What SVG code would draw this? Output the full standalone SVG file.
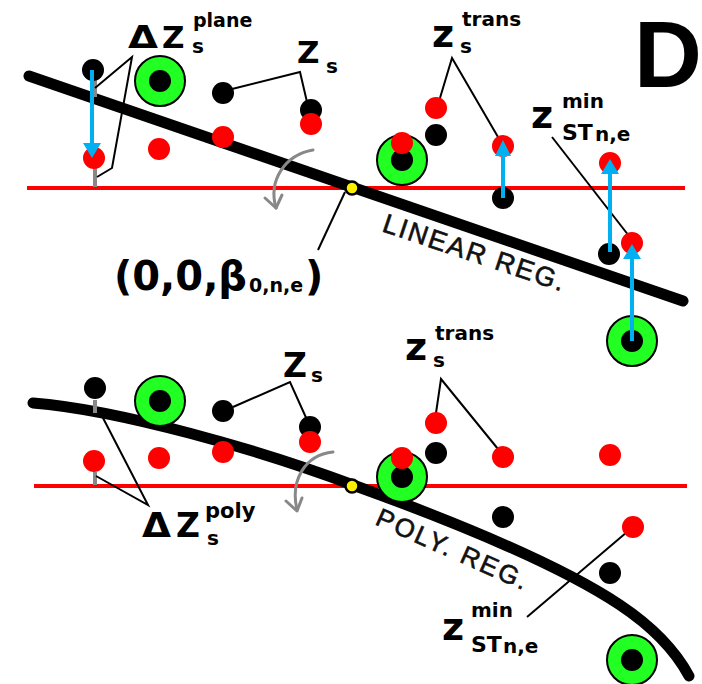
<svg xmlns="http://www.w3.org/2000/svg" width="702" height="684" viewBox="0 0 702 684">
<style>
.axis{stroke:#ff0000;stroke-width:4;fill:none}
.reg{stroke:#000;stroke-width:11;fill:none;stroke-linecap:round}
.stub{stroke:#888;stroke-width:4;fill:none}
.call{stroke:#000;stroke-width:2;fill:none;stroke-linejoin:miter}
.rot{stroke:#888;stroke-width:3;fill:none;stroke-linecap:round;stroke-linejoin:round}
.blk{fill:#000}
.red{fill:#ff0000}
.ring{fill:#22ff22;stroke:#000;stroke-width:2}
.yel{fill:#ffee00;stroke:#000;stroke-width:2.5}
.arr{stroke:#00b0f0;stroke-width:4;fill:none}
.ah{fill:#00b0f0}
.m{font-family:"DejaVu Sans",Verdana,sans-serif;font-weight:bold;fill:#000}
.lab{font-family:"Liberation Sans",Arial,sans-serif;fill:#111;stroke:#111;stroke-width:0.6}
</style>

<!-- axes and regression lines -->
<g id="axes">
<line class="axis" x1="27" y1="188" x2="685" y2="188"/>
<line class="axis" x1="34" y1="486" x2="687" y2="486"/>
<line class="reg" x1="29" y1="76" x2="683" y2="301"/>
<path class="reg" stroke-width="10" d="M33,403 C120,410 260,450 353,485 C450,520 560,565 620,605 C650,625 675,650 689,676"/>
</g>

<g id="connectors">
<line class="stub" x1="95" y1="80" x2="95" y2="97"/>
<line class="stub" x1="95" y1="167" x2="95" y2="187"/>
<line class="stub" x1="95" y1="400" x2="95" y2="413"/>
<line class="stub" x1="95" y1="472" x2="95" y2="485"/>
<polyline class="call" points="95,88 132,57 112,168 97,177"/>
<polyline class="call" points="228,90 300,72 307,102"/>
<polyline class="call" points="440,98 452,58 498,137"/>
<line class="call" x1="552" y1="137" x2="629" y2="236"/>
<line class="call" x1="345" y1="192" x2="318" y2="250"/>
<polyline class="call" points="102,416 148,505 96,476"/>
<polyline class="call" points="233,407 290,382 308,422"/>
<polyline class="call" points="436,413 441,379 498,449"/>
<line class="call" x1="527" y1="617" x2="627" y2="532"/>
</g>

<!-- top panel points -->
<g id="top-points">
<g id="t-ring1"><circle class="ring" cx="160" cy="81" r="25"/><circle class="blk" cx="160" cy="81" r="11"/></g>
<g id="t-ring2"><circle class="ring" cx="402" cy="160" r="25"/><circle class="blk" cx="402" cy="160" r="11"/></g>
<g id="t-ring3"><circle class="ring" cx="632" cy="341" r="25"/><circle class="blk" cx="632" cy="341" r="11"/></g>
<g id="t-black"><circle class="blk" cx="93" cy="70" r="11"/><circle class="blk" cx="223" cy="93" r="11"/><circle class="blk" cx="311" cy="110" r="11"/><circle class="blk" cx="436" cy="135" r="11"/><circle class="blk" cx="503" cy="198" r="11"/><circle class="blk" cx="609" cy="254" r="11"/></g>
<g id="t-red"><circle class="red" cx="94" cy="158" r="11"/><circle class="red" cx="159" cy="149" r="11"/><circle class="red" cx="223" cy="137" r="11"/><circle class="red" cx="311" cy="124" r="11"/><circle class="red" cx="436" cy="108" r="11"/><circle class="red" cx="402" cy="143" r="11"/><circle class="red" cx="503" cy="146" r="11"/><circle class="red" cx="610" cy="163" r="11"/><circle class="red" cx="632" cy="243" r="11"/></g>
</g>

<!-- bottom panel points -->
<g id="bottom-points">
<g id="b-ring1"><circle class="ring" cx="160" cy="401" r="25"/><circle class="blk" cx="160" cy="401" r="11"/></g>
<g id="b-ring2"><circle class="ring" cx="402" cy="477" r="25"/><circle class="blk" cx="402" cy="477" r="11"/></g>
<g id="b-ring3"><circle class="ring" cx="632" cy="660" r="25"/><circle class="blk" cx="632" cy="660" r="11"/></g>
<g id="b-black"><circle class="blk" cx="95" cy="388" r="11"/><circle class="blk" cx="223" cy="411" r="11"/><circle class="blk" cx="310" cy="427" r="11"/><circle class="blk" cx="436" cy="453" r="11"/><circle class="blk" cx="503" cy="517" r="11"/><circle class="blk" cx="610" cy="573" r="11"/></g>
<g id="b-red"><circle class="red" cx="94" cy="461" r="11"/><circle class="red" cx="159" cy="458" r="11"/><circle class="red" cx="223" cy="452" r="11"/><circle class="red" cx="310" cy="442" r="11"/><circle class="red" cx="436" cy="423" r="11"/><circle class="red" cx="402" cy="458" r="11"/><circle class="red" cx="503" cy="457" r="11"/><circle class="red" cx="610" cy="455" r="11"/><circle class="red" cx="633" cy="527" r="11"/></g>
</g>

<g id="arrows">
<line class="arr" x1="92" y1="70" x2="92" y2="145"/><polygon class="ah" points="83,143 101,143 92,158"/>
<line class="arr" x1="503" y1="198" x2="503" y2="154"/><polygon class="ah" points="495,156 511,156 503,140"/>
<line class="arr" x1="610" y1="252" x2="610" y2="172"/><polygon class="ah" points="601,174 619,174 610,159"/>
<line class="arr" x1="632" y1="341" x2="632" y2="257"/><polygon class="ah" points="623,259 641,259 632,244"/>
<path class="rot" d="M313,150 C285,155 268,180 276,208"/><polyline class="rot" points="265,198 276,208 282,195"/>
<path class="rot" d="M333,452 C305,455 290,480 297,510"/><polyline class="rot" points="286,501 297,511 302,498"/>
</g>

<g id="origins">
<circle class="yel" cx="352" cy="188" r="6.5"/>
<circle class="yel" cx="352" cy="486" r="6.5"/>
</g>

<!-- labels -->
<g id="label-D"><text x="634" y="87" font-family="Liberation Sans,Arial,sans-serif" font-weight="bold" font-size="94">D</text></g>
<g id="label-dz-plane" class="m">
<text x="128" y="48" font-size="31" textLength="30" lengthAdjust="spacingAndGlyphs">Δ</text>
<text x="162" y="48" font-size="31">Z</text>
<text x="192" y="53" font-size="20">s</text>
<text x="193" y="27" font-size="19">plane</text>
</g>
<g id="label-zs-top" class="m">
<text x="297" y="63" font-size="31">Z</text>
<text x="326" y="73" font-size="20">s</text>
</g>
<g id="label-ztrans-top" class="m">
<text x="432" y="47" font-size="38">z</text>
<text x="460" y="53" font-size="20">s</text>
<text x="462" y="26" font-size="20">trans</text>
</g>
<g id="label-zmin-top" class="m">
<text x="531" y="128" font-size="38">z</text>
<text x="562" y="108" font-size="20">min</text>
<text x="562" y="140" font-size="22">ST</text>
<text x="595" y="141" font-size="20">n,e</text>
</g>
<g id="label-origin" class="m">
<text x="114" y="290" font-size="40">(0,0,β</text>
<text x="249" y="292" font-size="19">0,n,e</text>
<text x="305" y="290" font-size="40">)</text>
</g>
<g id="label-linear"><text class="lab" transform="translate(381,231) rotate(18.5)" font-size="27" textLength="190" lengthAdjust="spacing">LINEAR REG.</text></g>

<g id="label-zs-bottom" class="m">
<text x="283" y="377" font-size="33">Z</text>
<text x="311" y="382" font-size="20">s</text>
</g>
<g id="label-ztrans-bottom" class="m">
<text x="405" y="360" font-size="38">z</text>
<text x="433" y="367" font-size="20">s</text>
<text x="435" y="340" font-size="20">trans</text>
</g>
<g id="label-dz-poly" class="m">
<text x="142" y="537" font-size="33" textLength="29" lengthAdjust="spacingAndGlyphs">Δ</text>
<text x="176" y="537" font-size="33">Z</text>
<text x="207" y="545" font-size="20">s</text>
<text x="205" y="518" font-size="21">poly</text>
</g>
<g id="label-zmin-bottom" class="m">
<text x="442" y="640" font-size="38">z</text>
<text x="471" y="617" font-size="20">min</text>
<text x="471" y="652" font-size="22">ST</text>
<text x="503" y="653" font-size="20">n,e</text>
</g>
<g id="label-poly"><text class="lab" transform="translate(374,524) rotate(24)" font-size="26" textLength="163" lengthAdjust="spacing">POLY. REG.</text></g>
</svg>
